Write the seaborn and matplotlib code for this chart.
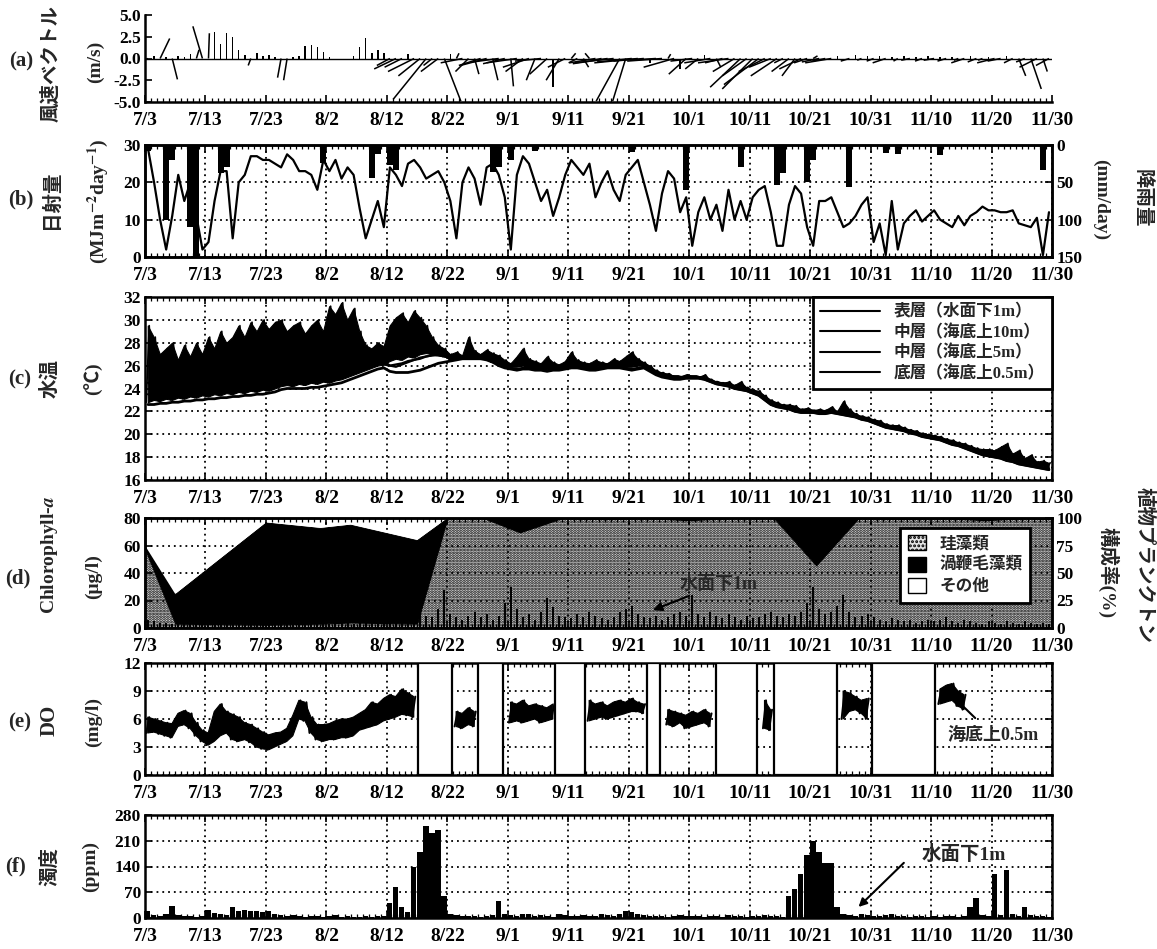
import numpy as np
import matplotlib
matplotlib.use("Agg")
import matplotlib.pyplot as plt
import seaborn as sns
from matplotlib.lines import Line2D
from matplotlib.patches import Patch, Rectangle
from matplotlib.ticker import MultipleLocator

nan = np.nan

# ---------------------------------------------------------------- axis labels
DATE_LABELS = ["7/3", "7/13", "7/23", "8/2", "8/12", "8/22", "9/1", "9/11",
               "9/21", "10/1", "10/11", "10/21", "10/31", "11/10", "11/20", "11/30"]
TICK_DAYS = list(range(0, 151, 10))
N_DAYS = 150

# ---------------------------------------------------------------- (a) wind (daily stick vectors, m/s)
WIND_U = [
    -2.0, 0.0, 1.1, 0.0, 0.6, 0.0, 0.0, 0.0, 0.3, -1.1,
    0.1, 0.0, 0.0, 0.0, 0.0, 0.0, 0.0, -0.3, 0.0, 0.0,
    0.0, 0.0, -0.4, -0.4, 0.0, 0.0, 0.0, 0.0, 0.0, 0.0,
    0.0, 0.0, 0.0, 0.0, 0.0, 0.0, 0.0, 0.0, 0.0, 0.0,
    -1.5, -2.5, -2.0, 0.0, -3.0, -2.5, -3.8, -1.0, -2.0, 1.9,
    0.0, 0.3, -2.5, -1.5, 0.5, -2.5, -3.0, 0.6, -3.0, -2.5,
    0.3, -3.5, -2.0, -3.0, -1.0, -3.0, -2.0, 0.0, -1.5, -2.0,
    0.5, -1.0, 0.6, -0.5, -3.0, -1.0, -4.0, -4.5, -2.7, -1.5,
    -4.0, -5.0, -3.5, 0.0, -3.0, -4.0, 0.3, -3.5, 0.0, -2.0,
    -2.5, -1.5, 0.0, -3.0, 0.5, -2.0, -3.5, -2.5, -3.5, -2.8,
    -3.5, -4.0, -3.0, -2.5, -3.0, -1.0, -2.0, -1.5, -2.5, -1.5,
    0.5, -2.0, -1.5, -3.0, 0.0, 0.0, -1.0, 0.0, -0.5, 0.0,
    -0.8, 0.0, -1.5, 0.0, -0.5, 0.0, -1.0, 0.0, -0.8, 0.0,
    -1.2, 0.0, -1.0, 0.0, -0.5, -1.5, 0.0, -1.0, -0.5, 0.0,
    -2.0, -1.5, 0.0, -1.0, 0.8, -1.0, 1.2, -2.0, 0.5, -1.5,
]
WIND_V = [
    -0.8, 0.3, 2.3, 0.2, -2.4, 0.3, 0.2, 0.5, 1.0, 3.7,
    2.9, 3.1, 1.7, 2.9, 2.5, 1.0, 0.4, -0.8, 0.6, 0.3,
    0.4, 0.2, -2.2, -2.5, 0.2, 0.3, 1.4, 1.5, 1.3, 0.8,
    0.2, -0.2, -0.2, -0.2, 0.3, 1.3, 2.3, 0.6, 1.0, 0.6,
    -0.8, -1.2, -1.0, 0.5, -1.5, -2.0, -4.7, -0.8, -1.5, -4.9,
    0.5, 0.6, -0.5, -1.5, -1.8, -0.8, -0.8, -2.5, -0.4, -0.6,
    -3.2, -0.5, -1.5, -1.0, -2.5, -0.3, -1.8, -3.3, -2.5, -1.0,
    0.6, -0.5, -1.0, 0.6, -0.5, -0.2, -0.6, -0.5, -4.9, -4.9,
    -0.4, -0.5, -0.3, -0.5, -0.2, -0.3, 0.5, -1.0, -1.2, -1.8,
    -0.3, -1.2, 0.4, -0.5, -1.0, -0.5, -0.5, -1.5, -3.3, -2.0,
    -3.5, -3.0, -1.5, -1.0, -2.0, -0.5, -1.5, -2.0, -1.2, -0.5,
    0.3, -0.4, -0.3, -0.5, 0.3, -0.3, -0.3, 0.4, -0.2, 0.3,
    -0.3, 0.3, -0.5, 0.2, -0.3, 0.3, -0.2, 0.2, -0.3, 0.3,
    -0.2, 0.2, -0.3, 0.2, -0.2, -0.5, 0.3, -0.4, -0.2, 0.2,
    -0.5, -0.3, 0.3, -0.5, -2.0, -0.4, -3.5, -1.0, -1.5, -0.8,
]

# ---------------------------------------------------------------- (b) solar radiation (MJ m-2 day-1) and rain (mm/day)
SOLAR = [
    29, 20, 10, 2, 11, 22, 15, 20, 11, 2,
    4, 15, 23, 23, 5, 20, 22, 27, 27, 26,
    26, 25, 24, 27.5, 26, 23, 23, 22, 18, 26,
    23, 26, 21, 24, 22, 13, 5, 10, 15, 8,
    24, 22, 19, 25, 26, 24, 21, 22, 23, 20,
    15, 5, 20, 24, 21, 14, 24, 25, 22, 16,
    2, 22, 27, 25, 20, 15, 18, 11, 16, 22,
    26, 24, 22, 25, 16, 20, 23, 18, 15, 22,
    24, 26, 20, 14, 7, 17, 23, 21, 12, 16,
    3, 12, 16, 10, 14, 7, 18, 10, 15, 10,
    16, 18, 19, 12, 3, 3, 14, 19, 17, 8,
    3, 15, 15, 16, 12, 8, 9, 11, 14, 16,
    4, 9, 0.5, 15, 2, 9, 11, 12.5, 9.5, 11,
    12.5, 10, 9, 8, 11, 8.5, 11, 12, 13.5, 12.5,
    12.5, 12, 12, 12.5, 9, 8.5, 8, 10.5, 0.5, 12,
]
RAIN = [
    8, 0, 0, 100, 20, 0, 0, 110, 150, 0,
    0, 0, 38, 30, 0, 0, 0, 0, 0, 0,
    0, 0, 0, 0, 0, 0, 0, 0, 0, 24,
    0, 0, 0, 0, 0, 0, 0, 44, 12, 0,
    27, 33, 0, 0, 0, 0, 0, 0, 0, 0,
    0, 0, 0, 0, 0, 0, 0, 36, 30, 0,
    20, 0, 0, 0, 8, 0, 0, 0, 0, 0,
    0, 0, 0, 0, 0, 0, 0, 0, 0, 0,
    10, 0, 0, 0, 0, 0, 0, 0, 0, 60,
    0, 0, 0, 0, 0, 0, 0, 0, 30, 0,
    0, 0, 0, 0, 53, 37, 0, 0, 0, 50,
    20, 0, 0, 0, 0, 0, 56, 0, 0, 0,
    0, 0, 11, 0, 12, 0, 0, 0, 0, 0,
    0, 14, 0, 0, 0, 0, 0, 0, 0, 0,
    0, 0, 0, 0, 0, 0, 0, 0, 33, 0,
]

# ---------------------------------------------------------------- (c) water temperature (deg C)
SURF_HI = [
    29.5, 28.5, 27.0, 27.5, 28.0, 26.5, 27.8, 26.8, 28.0, 27.0,
    28.5, 27.5, 29.0, 28.0, 28.5, 29.5, 28.5, 29.8, 29.0, 30.0,
    29.2, 29.8, 30.0, 29.0, 29.5, 29.8, 28.8, 29.5, 30.0, 29.0,
    31.2, 30.5, 31.5, 30.0, 31.0, 29.0, 27.8, 27.5, 28.0, 27.7,
    29.5, 30.2, 30.6, 29.8, 30.8, 30.2, 29.5, 28.5, 27.8, 27.5,
    27.0, 27.2, 26.9, 28.5, 27.3, 27.0, 27.4, 27.1, 26.9, 26.5,
    26.2, 26.8, 27.5, 26.6, 26.4, 26.2, 26.8, 26.3, 26.1, 26.4,
    27.2, 26.5, 26.3, 26.2, 26.5, 26.3, 26.2, 26.6, 26.4, 26.8,
    27.2, 26.6, 26.3, 26.0, 25.6, 25.4, 25.3, 25.1, 25.0, 25.2,
    25.1, 25.0, 25.2, 24.8, 24.6, 24.5, 24.6, 24.3, 24.6, 24.1,
    23.9, 23.8, 23.4, 23.0, 22.8, 22.6, 22.6, 22.5, 22.2, 22.3,
    22.1, 22.2, 22.1, 22.4, 22.0, 22.9, 22.2, 21.8, 21.6, 21.5,
    21.3, 21.2, 20.9, 20.8, 20.8, 20.6, 20.4, 20.3, 20.1, 20.0,
    19.9, 19.8, 19.6, 19.5, 19.3, 19.2, 19.0, 18.8, 18.7, 18.7,
    18.6, 18.9, 19.2, 18.3, 18.6, 17.9, 18.2, 17.6, 17.7, 17.5,
]
SURF_LO = [
    22.8, 23.0, 22.9, 23.1, 23.0, 23.2, 23.1, 23.3, 23.2, 23.4,
    23.3, 23.5, 23.4, 23.6, 23.5, 23.7, 23.6, 23.8, 23.7, 23.9,
    23.8, 24.0, 24.2, 24.3, 24.2, 24.4, 24.3, 24.5, 24.4, 24.6,
    24.5, 24.7, 24.8, 25.0, 25.2, 25.4, 25.6, 25.8, 26.0, 26.1,
    26.4, 26.6, 26.5, 26.8, 26.7, 27.0, 27.1, 27.0, 26.9, 26.8,
    26.6, 26.6, 26.7, 26.6, 26.6, 26.7, 26.6, 26.3, 26.1, 25.9,
    26.0, 26.0, 26.1, 26.0, 25.9, 25.9, 25.9, 25.9, 25.9, 26.0,
    26.1, 26.1, 26.0, 25.9, 25.9, 26.0, 26.1, 26.1, 26.1, 26.0,
    26.0, 26.1, 26.1, 25.8, 25.5, 25.3, 25.2, 25.1, 25.1, 25.1,
    25.1, 25.1, 25.0, 24.8, 24.6, 24.5, 24.4, 24.2, 24.1, 24.0,
    23.8, 23.6, 23.2, 22.8, 22.6, 22.5, 22.4, 22.2, 22.1, 22.1,
    22.1, 22.0, 22.0, 22.1, 22.0, 21.9, 21.8, 21.7, 21.5, 21.4,
    21.2, 21.0, 20.8, 20.7, 20.6, 20.5, 20.3, 20.2, 20.0, 19.9,
    19.8, 19.7, 19.5, 19.3, 19.2, 19.0, 18.8, 18.6, 18.4, 18.3,
    18.2, 18.1, 17.9, 17.8, 17.6, 17.5, 17.4, 17.3, 17.2, 17.1,
]
MID10 = [
    24.5, 24.2, 24.6, 24.4, 24.7, 24.5, 24.9, 24.6, 24.8, 25.0,
    24.7, 25.1, 24.9, 25.3, 25.0, 25.4, 25.2, 25.5, 25.3, 25.6,
    25.4, 25.7, 25.8, 25.6, 25.9, 25.7, 26.0, 25.8, 26.1, 25.9,
    26.1, 26.3, 26.2, 26.4, 26.5, 26.6, 26.4, 26.3, 26.2, 26.1,
    26.0, 26.1, 26.2, 26.4, 26.5, 26.7, 26.8, 26.9, 26.9, 26.8,
    26.7, 26.7, 26.8, 26.8, 26.7, 26.8, 26.7, 26.5, 26.3, 26.1,
    25.9, 25.9, 26.0, 25.9, 25.8, 25.8, 25.8, 25.8, 25.8, 25.9,
    26.0, 26.0, 25.9, 25.8, 25.8, 25.9, 26.0, 26.0, 26.0, 25.9,
    25.9, 26.0, 26.0, 25.7, 25.4, 25.2, 25.1, 25.0, 25.0, 25.0,
    25.0, 25.0, 24.9, 24.7, 24.5, 24.4, 24.3, 24.1, 24.0, 23.9,
    23.7, 23.5, 23.1, 22.7, 22.5, 22.4, 22.3, 22.1, 22.0, 22.0,
    22.0, 21.9, 21.9, 22.0, 21.9, 21.8, 21.7, 21.6, 21.4, 21.3,
    21.1, 20.9, 20.7, 20.6, 20.5, 20.4, 20.2, 20.1, 19.9, 19.8,
    19.7, 19.6, 19.4, 19.2, 19.1, 18.9, 18.7, 18.5, 18.3, 18.2,
    18.1, 18.0, 17.8, 17.7, 17.5, 17.4, 17.3, 17.2, 17.1, 17.0,
]
MID5 = [
    23.5, 23.3, 23.4, 23.6, 23.5, 23.7, 23.6, 23.8, 23.7, 23.9,
    23.8, 24.0, 23.9, 24.1, 24.0, 24.2, 24.1, 24.3, 24.2, 24.4,
    24.3, 24.5, 24.6, 24.8, 24.7, 24.9, 24.8, 25.0, 25.1, 25.0,
    25.2, 25.3, 25.4, 25.6, 25.7, 25.9, 26.0, 26.2, 26.3, 26.4,
    26.0, 25.9, 26.1, 26.3, 26.5, 26.6, 26.8, 26.9, 27.0, 27.0,
    26.5, 26.6, 26.7, 26.7, 26.6, 26.7, 26.6, 26.4, 26.1, 25.9,
    25.8, 25.7, 25.8, 25.8, 25.7, 25.7, 25.6, 25.7, 25.7, 25.8,
    25.9, 25.9, 25.8, 25.7, 25.7, 25.8, 25.9, 25.9, 25.9, 25.8,
    25.7, 25.8, 25.9, 25.6, 25.3, 25.1, 25.0, 24.9, 24.9, 24.9,
    24.9, 24.9, 24.8, 24.6, 24.4, 24.3, 24.2, 24.0, 23.9, 23.8,
    23.6, 23.4, 23.0, 22.6, 22.4, 22.3, 22.2, 22.0, 21.9, 21.9,
    21.9, 21.8, 21.8, 21.9, 21.8, 21.7, 21.6, 21.5, 21.3, 21.2,
    21.0, 20.8, 20.6, 20.5, 20.4, 20.3, 20.1, 20.0, 19.8, 19.7,
    19.6, 19.5, 19.3, 19.1, 19.0, 18.8, 18.6, 18.4, 18.2, 18.1,
    18.0, 17.9, 17.7, 17.6, 17.4, 17.3, 17.2, 17.1, 17.0, 16.9,
]
BOTTOM = [
    22.6, 22.6, 22.7, 22.7, 22.8, 22.8, 22.9, 22.9, 23.0, 23.0,
    23.1, 23.1, 23.2, 23.2, 23.3, 23.3, 23.4, 23.4, 23.5, 23.5,
    23.6, 23.7, 23.9, 24.0, 24.0, 24.0, 24.0, 24.1, 24.1, 24.2,
    24.3, 24.4, 24.5, 24.7, 24.9, 25.1, 25.3, 25.5, 25.7, 25.8,
    25.5, 25.4, 25.4, 25.4, 25.5, 25.6, 25.8, 26.0, 26.2, 26.3,
    26.4, 26.5, 26.6, 26.6, 26.6, 26.6, 26.5, 26.3, 26.0, 25.8,
    25.7, 25.6, 25.7, 25.7, 25.6, 25.6, 25.5, 25.6, 25.6, 25.7,
    25.8, 25.8, 25.7, 25.6, 25.6, 25.7, 25.8, 25.8, 25.8, 25.7,
    25.6, 25.7, 25.8, 25.5, 25.2, 25.0, 24.9, 24.8, 24.8, 24.9,
    24.9, 24.9, 24.8, 24.6, 24.4, 24.3, 24.2, 24.0, 23.9, 23.8,
    23.6, 23.4, 23.0, 22.6, 22.4, 22.3, 22.2, 22.0, 21.9, 21.9,
    21.9, 21.8, 21.8, 21.9, 21.8, 21.7, 21.6, 21.5, 21.3, 21.2,
    21.0, 20.8, 20.6, 20.5, 20.4, 20.3, 20.1, 20.0, 19.8, 19.7,
    19.6, 19.5, 19.3, 19.1, 19.0, 18.8, 18.6, 18.4, 18.2, 18.1,
    18.0, 17.9, 17.7, 17.6, 17.4, 17.3, 17.2, 17.1, 17.0, 16.9,
]
TEMP_LAYERS = ["表層（水面下1m）", "中層（海底上10m）", "中層（海底上5m）", "底層（海底上0.5m）"]

# ---------------------------------------------------------------- (d) chlorophyll-a (ug/l) and phytoplankton composition (%)
CHL = [
    6, 5, 4, 4, 3, 5, 4, 3, 4, 5,
    4, 6, 5, 3, 4, 3, 5, 4, 3, 4,
    5, 4, 6, 5, 4, 3, 4, 5, 6, 4,
    3, 4, 5, 4, 3, 4, 5, 4, 3, 4,
    5, 6, 8, 7, 10, 12, 9, 8, 14, 28,
    10, 8, 6, 9, 12, 8, 10, 6, 9, 18,
    30, 14, 8, 10, 6, 12, 22, 15, 9, 8,
    7, 10, 8, 12, 9, 7, 6, 8, 12, 14,
    16, 10, 8, 7, 9, 6, 8, 10, 12, 9,
    24, 10, 8, 12, 9, 7, 10, 8, 6, 9,
    7, 8, 10, 12, 9, 8, 10, 9, 12, 18,
    30, 14, 10, 12, 16, 24, 12, 8, 9, 10,
    8, 6, 5, 7, 6, 5, 6, 4, 5, 6,
    5, 6, 8, 5, 4, 6, 5, 4, 3, 5,
    4, 3, 5, 4, 3, 5, 4, 3, 4, 3,
]
PHYTO_DAYS = [0, 5, 20, 29, 34, 45, 50, 56, 62, 69, 76, 83, 90, 97, 104, 111, 118, 125, 132, 139, 146, 150]
DIATOM_PCT = [72, 4, 3, 4, 5, 4, 100, 100, 87, 100, 99, 100, 98, 100, 100, 57, 100, 99, 100, 98, 100, 99]
DINO_PCT = [3, 27, 93, 87, 89, 76, 0, 0, 13, 0, 1, 0, 2, 0, 0, 43, 0, 1, 0, 2, 0, 1]
OTHER_PCT = [25, 69, 4, 9, 6, 20, 0, 0, 0, 0, 0, 0, 0, 0, 0, 0, 0, 0, 0, 0, 0, 0]
PHYTO_GROUPS = ["珪藻類", "渦鞭毛藻類", "その他"]

# ---------------------------------------------------------------- (e) dissolved oxygen (mg/l), daily range
DO_LO = [
    4.5, 4.6, 4.4, 4.2, 4.0, 5.2, 5.4, 5.0, 4.2, 3.6,
    3.2, 3.6, 4.2, 4.5, 3.8, 3.6, 3.8, 3.5, 3.0, 2.8,
    2.7, 3.0, 3.3, 3.6, 4.2, 6.0, 5.8, 4.5, 3.8, 3.6,
    3.8, 3.8, 4.0, 4.0, 4.2, 4.8, 5.0, 5.2, 5.4, 5.8,
    6.0, 6.2, 6.5, 6.4, 6.2, nan, nan, nan, nan, nan,
    nan, 5.2, 5.0, 5.4, 5.2, nan, nan, nan, nan, nan,
    5.6, 5.8, 5.6, 5.8, 6.0, 5.6, 5.8, 6.0, nan, nan,
    nan, nan, nan, 5.8, 6.0, 6.2, 6.0, 6.2, 6.4, 6.6,
    6.8, 6.8, 6.6, nan, nan, nan, 5.4, 5.2, 5.6, 5.0,
    5.2, 5.4, 5.6, 5.2, nan, nan, nan, nan, nan, nan,
    nan, nan, 5.0, 4.8, nan, nan, nan, nan, nan, nan,
    nan, nan, nan, nan, nan, 6.0, 6.8, 7.0, 6.6, 6.0,
    nan, nan, nan, nan, nan, nan, nan, nan, nan, nan,
    nan, 7.6, 7.8, 8.0, 7.4, 7.0, nan, nan, nan, nan,
    nan, nan, nan, nan, nan, nan, nan, nan, nan, nan,
]
DO_HI = [
    6.2, 6.0, 5.8, 5.6, 5.5, 6.6, 6.9, 6.6, 5.6, 4.8,
    4.5, 6.8, 7.6, 6.8, 6.5, 6.2, 5.6, 5.4, 5.0, 4.6,
    4.3, 4.5, 4.6, 5.0, 6.4, 8.0, 7.8, 6.2, 5.4, 5.4,
    5.5, 5.8, 6.0, 6.0, 6.2, 6.6, 7.0, 7.8, 7.6, 8.2,
    8.6, 8.4, 9.2, 8.8, 8.4, nan, nan, nan, nan, nan,
    nan, 6.8, 6.6, 7.2, 6.8, nan, nan, nan, nan, nan,
    7.8, 7.6, 8.0, 7.4, 7.6, 7.4, 7.2, 7.6, nan, nan,
    nan, nan, nan, 8.0, 7.6, 7.8, 7.4, 7.8, 8.0, 7.8,
    8.2, 7.8, 7.6, nan, nan, nan, 7.0, 6.8, 6.6, 6.4,
    6.8, 6.6, 7.0, 6.6, nan, nan, nan, nan, nan, nan,
    nan, nan, 8.0, 7.0, nan, nan, nan, nan, nan, nan,
    nan, nan, nan, nan, nan, 9.0, 8.8, 8.4, 8.0, 8.2,
    nan, nan, nan, nan, nan, nan, nan, nan, nan, nan,
    nan, 9.2, 9.6, 9.8, 9.0, 8.6, nan, nan, nan, nan,
    nan, nan, nan, nan, nan, nan, nan, nan, nan, nan,
]
DO_GAP_START = [45.1, 55.0, 67.8, 83.0, 94.5, 104.1, 120.3]
DO_GAP_END = [50.7, 59.2, 72.7, 85.1, 101.2, 114.5, 130.6]

# ---------------------------------------------------------------- (f) turbidity (ppm), daily maximum
TURBIDITY = [
    20, 8, 6, 10, 32, 8, 6, 5, 4, 6,
    22, 14, 10, 8, 30, 20, 22, 18, 20, 15,
    18, 10, 8, 6, 8, 5, 4, 6, 5, 4,
    5, 8, 4, 5, 4, 3, 5, 4, 6, 5,
    40, 85, 30, 15, 140, 180, 250, 230, 240, 60,
    10, 8, 6, 5, 6, 4, 5, 8, 45, 10,
    8, 6, 12, 10, 6, 8, 5, 4, 10, 8,
    6, 5, 8, 6, 5, 12, 8, 6, 10, 20,
    15, 10, 8, 6, 5, 6, 4, 5, 8, 6,
    5, 6, 4, 5, 6, 4, 8, 5, 6, 4,
    5, 6, 8, 6, 5, 4, 60, 80, 120, 170,
    210, 180, 150, 150, 30, 10, 8, 6, 10, 8,
    6, 5, 8, 10, 6, 5, 4, 6, 5, 4,
    5, 4, 6, 5, 4, 6, 30, 55, 8, 6,
    120, 8, 130, 10, 6, 30, 8, 6, 5, 4,
]

# ================================================================ styling
sns.set_theme(style="ticks")
plt.rcParams["font.family"] = ["Liberation Serif", "Noto Sans CJK JP"]
plt.rcParams["font.weight"] = "bold"
plt.rcParams["mathtext.fontset"] = "stix"
plt.rcParams["hatch.linewidth"] = 1.4
plt.rcParams["hatch.color"] = "black"
plt.rcParams["axes.unicode_minus"] = False

W, H = 1157, 949
X0, X1 = 145, 1052
fig = plt.figure(figsize=(W / 100, H / 100), dpi=100)
fig.patch.set_facecolor("white")

days = np.arange(N_DAYS)
GRID = dict(color="black", linestyle=(0, (1.0, 2.2)), linewidth=1.3)
STIPPLE = "......"
YLABEL_SIZE = 12.5


def panel(top, bottom):
    return fig.add_axes([X0 / W, 1 - bottom / H, (X1 - X0) / W, (bottom - top) / H])


def frame(ax, ylim, yticks, ylabels=None, box=True, grid=True):
    ax.set_xlim(0, N_DAYS)
    ax.set_ylim(*ylim)
    ax.set_xticks(TICK_DAYS)
    ax.set_xticklabels(DATE_LABELS)
    ax.xaxis.set_minor_locator(MultipleLocator(1))
    ax.set_yticks(yticks)
    if ylabels is not None:
        ax.set_yticklabels(ylabels)
    ax.tick_params(axis="both", which="both", direction="in", top=box, right=False, colors="black")
    ax.tick_params(axis="x", which="major", length=5, width=1.2, labelsize=14, pad=7)
    ax.tick_params(axis="x", which="minor", length=3, width=0.9)
    ax.tick_params(axis="y", which="major", length=5, width=1.2, labelsize=YLABEL_SIZE, pad=3)
    for side, sp in ax.spines.items():
        sp.set_color("black")
        sp.set_linewidth(1.8)
        if not box and side in ("top", "right"):
            sp.set_visible(False)
    if grid:
        ax.grid(True, which="major", **GRID)
    ax.set_xlabel("")
    ax.set_ylabel("")
    ax.set_axisbelow(False)


def right_axis(ax, ylim, yticks):
    ax2 = ax.twinx()
    ax2.set_ylim(*ylim)
    ax2.set_yticks(yticks)
    ax2.tick_params(axis="y", which="major", direction="in", length=5, width=1.2,
                    labelsize=YLABEL_SIZE, pad=3, colors="black")
    for sp in ax2.spines.values():
        sp.set_color("black")
        sp.set_linewidth(1.8)
    ax2.grid(False)
    return ax2


def zigzag(lo, hi):
    t = np.column_stack([days + 0.2, days + 0.7]).ravel()
    y = np.column_stack([np.asarray(lo, float), np.asarray(hi, float)]).ravel()
    return t, y


def ftext(x, y, s, **kw):
    kw.setdefault("ha", "center")
    kw.setdefault("va", "center")
    fig.text(x / W, 1 - y / H, s, **kw)


# ---------------------------------------------------------------- (a)
ax_a = panel(15, 102)
frame(ax_a, (-5, 5), [-5, -2.5, 0, 2.5, 5], ["-5.0", "-2.5", "0.0", "2.5", "5.0"], box=False, grid=False)
ax_a.axhline(0, color="black", lw=1.0)
ax_a.quiver(days + 0.5, np.zeros(N_DAYS), WIND_U, WIND_V, angles="uv", scale_units="y", scale=1,
            pivot="tail", width=0.0017, headwidth=0, headlength=0, headaxislength=0,
            minlength=0, color="black")
ftext(21, 61, "(a)", fontsize=15)
ftext(51, 64, "風速ベクトル", rotation=90, fontsize=14)
ftext(95, 62, "(m/s)", rotation=90, fontsize=14)

# ---------------------------------------------------------------- (b)
ax_b = panel(145, 257)
frame(ax_b, (0, 30), [0, 10, 20, 30])
ax_b2 = right_axis(ax_b, (150, 0), [0, 50, 100, 150])
ax_b2.bar(days, RAIN, width=1.0, align="edge", color="black", linewidth=0)
sns.lineplot(x=days + 0.5, y=SOLAR, ax=ax_b, color="black", linewidth=1.6)
ax_b.set_zorder(ax_b2.get_zorder() + 1)
ax_b.patch.set_visible(False)
ax_b.set_xlabel("")
ax_b.set_ylabel("")
ftext(21, 199, "(b)", fontsize=15)
ftext(51, 200, "日射量", rotation=90, fontsize=14)
ftext(98, 201, r"(MJm$^{\mathbf{-2}}$day$^{\mathbf{-1}}$)", rotation=90, fontsize=14)
ftext(1101, 200, "(mm/day)", rotation=270, fontsize=14)
ftext(1142, 198, "降雨量", rotation=270, fontsize=14)

# ---------------------------------------------------------------- (c)
ax_c = panel(297, 480)
frame(ax_c, (16, 32), list(range(16, 33, 2)))
ax_c.tick_params(axis="y", which="major", right=True)
ax_c.fill_between(days + 0.45, SURF_LO, SURF_HI, color="black", linewidth=0.8)
t_s, y_s = zigzag(SURF_LO, SURF_HI)
ax_c.plot(t_s, y_s, color="black", linewidth=1.2)
for series, lw in ((MID10, 1.6), (MID5, 1.6), (BOTTOM, 2.0)):
    sns.lineplot(x=days + 0.5, y=series, ax=ax_c, color="black", linewidth=lw)
ax_c.set_xlabel("")
ax_c.set_ylabel("")
leg_c = ax_c.legend([Line2D([], [], color="black", lw=1.5) for _ in TEMP_LAYERS], TEMP_LAYERS,
                    loc="upper right", bbox_to_anchor=(1.0, 1.0), borderaxespad=0.0,
                    fontsize=12, handlelength=3.6, labelspacing=0.25, borderpad=0.45,
                    fancybox=False, framealpha=1, edgecolor="black")
leg_c.get_frame().set_linewidth(2.0)
ftext(20, 379, "(c)", fontsize=15)
ftext(50, 378, "水温", rotation=90, fontsize=14)
ftext(94, 379, "(℃)", rotation=90, fontsize=14)

# ---------------------------------------------------------------- (d)
ax_d = panel(518, 628)
frame(ax_d, (0, 80), [0, 20, 40, 60, 80])
ax_d2 = right_axis(ax_d, (0, 100), [0, 25, 50, 75, 100])
diatom = np.array(DIATOM_PCT, float)
dino_top = diatom + np.array(DINO_PCT, float)
other_top = dino_top + np.array(OTHER_PCT, float)
ax_d2.fill_between(PHYTO_DAYS, 0, diatom, facecolor="#e4e4e4", hatch=STIPPLE, edgecolor="black", linewidth=0)
ax_d2.fill_between(PHYTO_DAYS, diatom, dino_top, facecolor="black", edgecolor="black", linewidth=0.8)
ax_d2.fill_between(PHYTO_DAYS, dino_top, other_top, facecolor="white", edgecolor="none")
ax_d.set_zorder(ax_d2.get_zorder() + 1)
ax_d.patch.set_visible(False)
ax_d.vlines(days + 0.5, 0, CHL, color="black", linewidth=1.4)
leg_d = ax_d.legend(
    [Patch(facecolor="#e4e4e4", hatch="....", edgecolor="black"),
     Patch(facecolor="black", edgecolor="black"),
     Patch(facecolor="white", edgecolor="black")],
    PHYTO_GROUPS, loc="upper right", bbox_to_anchor=(0.976, 0.91), borderaxespad=0.0,
    fontsize=12, handlelength=1.1, handleheight=1.0, labelspacing=0.25, borderpad=0.45,
    fancybox=False, framealpha=1, edgecolor="black")
leg_d.get_frame().set_linewidth(2.0)
ax_d.annotate("水面下1m", xy=(84, 13), xytext=(88.5, 32), fontsize=13, ha="left", va="center",
              arrowprops=dict(arrowstyle="-|>", color="black", lw=1.5, shrinkA=0, shrinkB=0))
ftext(18, 578, "(d)", fontsize=15)
ftext(50, 555, r"Chlorophyll-$\mathit{a}$", rotation=90, fontsize=14)
ftext(93, 577, "(μg/l)", rotation=90, fontsize=14)
ftext(1108, 573, "構成率(%)", rotation=270, fontsize=14)
ftext(1144, 565, "植物プランクトン", rotation=270, fontsize=14)

# ---------------------------------------------------------------- (e)
ax_e = panel(663, 775)
frame(ax_e, (0, 12), [0, 3, 6, 9, 12])
ax_e.tick_params(axis="y", which="major", right=True)
for g0, g1 in zip(DO_GAP_START, DO_GAP_END):
    ax_e.add_patch(Rectangle((g0, 0), g1 - g0, 12, facecolor="white", edgecolor="black",
                             linewidth=1.6, zorder=3))
ax_e.fill_between(days + 0.45, DO_LO, DO_HI, color="black", linewidth=0.8, zorder=4)
t_do, y_do = zigzag(DO_LO, DO_HI)
ax_e.plot(t_do, y_do, color="black", linewidth=1.4, zorder=4)
ax_e.annotate("", xy=(133.8, 8.3), xytext=(137.3, 6.1),
              arrowprops=dict(arrowstyle="-|>", color="black", lw=1.5, shrinkA=0, shrinkB=0))
ax_e.text(140.3, 4.2, "海底上0.5m", fontsize=13, ha="center", va="center")
ftext(20, 722, "(e)", fontsize=15)
ftext(50, 720, "DO", rotation=90, fontsize=15)
ftext(93, 722, "(mg/l)", rotation=90, fontsize=14)

# ---------------------------------------------------------------- (f)
ax_f = panel(815, 918)
frame(ax_f, (0, 280), [0, 70, 140, 210, 280])
ax_f.tick_params(axis="y", which="major", right=True)
ax_f.bar(days, TURBIDITY, width=0.9, align="edge", color="black", linewidth=0)
ax_f.annotate("", xy=(118, 30), xytext=(125.5, 150),
              arrowprops=dict(arrowstyle="-|>", color="black", lw=1.5, shrinkA=0, shrinkB=0))
ax_f.text(135.4, 172, "水面下1m", fontsize=14, ha="center", va="center")
ftext(16, 866, "(f)", fontsize=15)
ftext(50, 866, "濁度", rotation=90, fontsize=14)
ftext(90, 867, "(ppm)", rotation=90, fontsize=14)

fig.savefig("out.png", dpi=100, facecolor="white")
